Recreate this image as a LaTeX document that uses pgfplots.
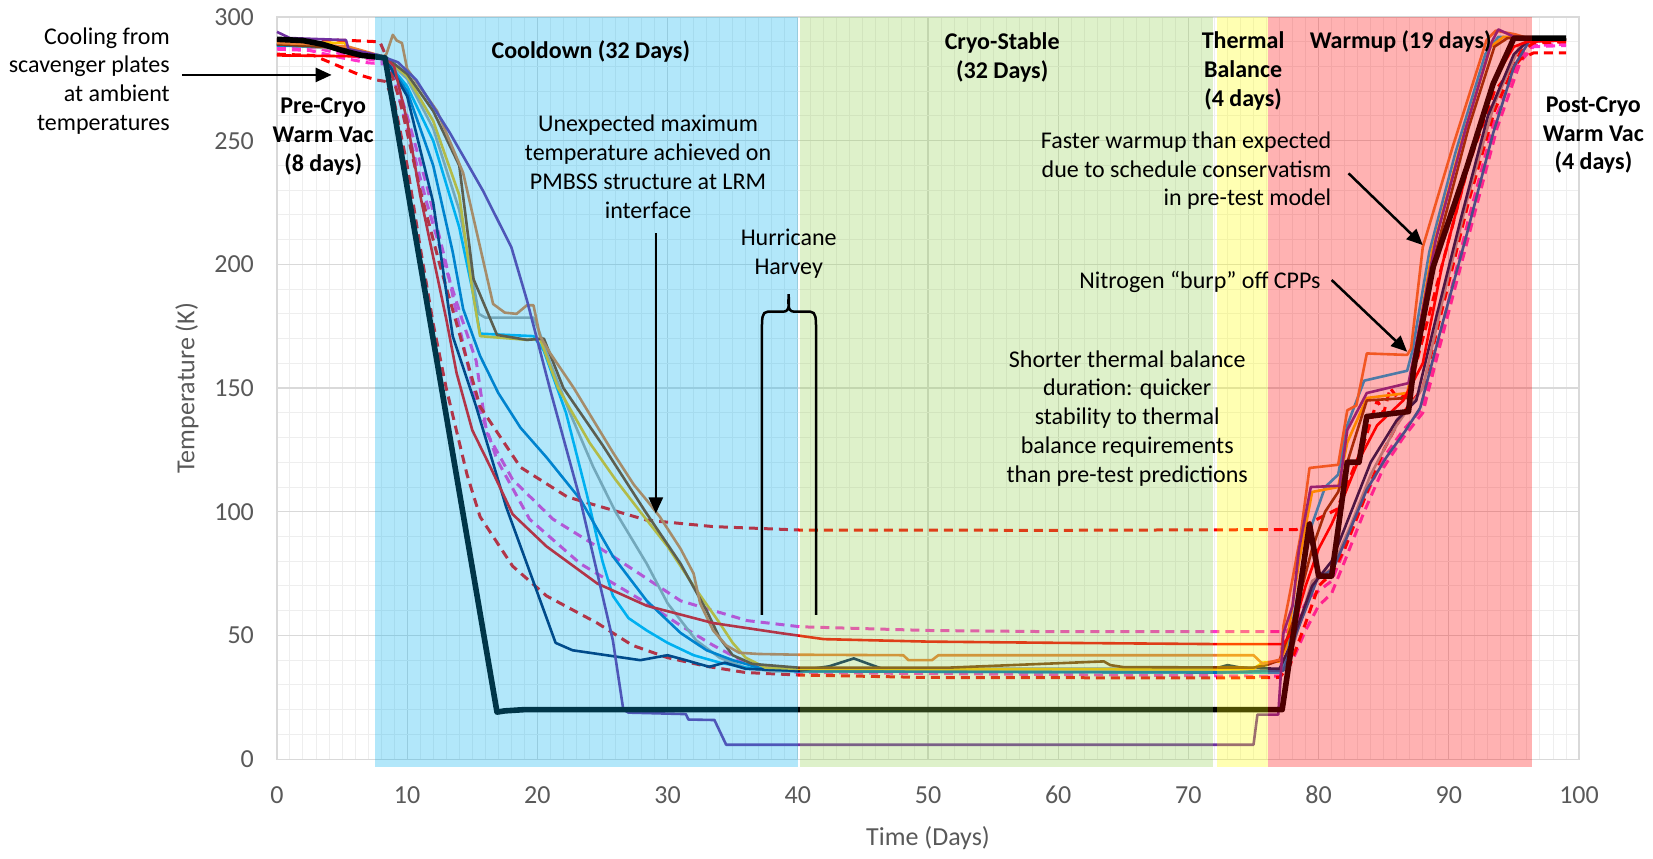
\documentclass[border=0pt]{standalone}
\usepackage{fontspec}
\setmainfont{Carlito}
\usepackage{pgfplots}
\pgfplotsset{compat=1.18}
\usetikzlibrary{arrows.meta}
\definecolor{gridmaj}{RGB}{217,217,217}
\definecolor{gridmin}{RGB}{238,238,238}
\definecolor{ticktext}{RGB}{89,89,89}
\definecolor{cPurple}{RGB}{112,48,160}
\definecolor{cOrange}{RGB}{237,125,49}
\definecolor{cBrown}{RGB}{132,60,12}
\definecolor{cGold}{RGB}{255,192,0}
\definecolor{cGray}{RGB}{165,165,165}
\definecolor{cCyan}{RGB}{0,176,240}
\definecolor{cBlue}{RGB}{0,112,192}
\definecolor{cNavy}{RGB}{0,32,96}
\definecolor{cRed}{RGB}{255,0,0}
\definecolor{cMag}{RGB}{255,51,204}
\definecolor{rBlue}{RGB}{0,176,240}
\definecolor{rGreen}{RGB}{146,208,80}
\definecolor{rYellow}{RGB}{255,255,0}
\definecolor{rRed}{RGB}{255,0,0}
\newcommand\an{\fontsize{12}{14.4}\selectfont}
\begin{document}
\begin{tikzpicture}
\begin{axis}[
  scale only axis, width=651pt, height=371pt,
  xmin=0, xmax=100, ymin=0, ymax=300,
  xtick={0,10,...,100}, ytick={0,50,...,300},
  minor x tick num=9, minor y tick num=4,
  grid=both,
  major grid style={draw=gridmaj, line width=0.6pt},
  minor grid style={draw=gridmin, line width=0.5pt},
  axis line style={draw=gridmaj, line width=0.6pt},
  tick style={draw=none},
  /pgf/number format/assume math mode=true,
  tick label style={font=\fontsize{13}{15}\selectfont, text=ticktext},
  yticklabel style={xshift=-8pt},
  xticklabel style={yshift=-10pt},
  xlabel={Time (Days)}, ylabel={Temperature (K)},
  label style={font=\fontsize{13}{15}\selectfont, text=ticktext},
  xlabel style={at={(axis description cs:0.5,-0.1065)}, anchor=center},
  ylabel style={at={(axis description cs:-0.0691,0.5)}, anchor=center},
  clip=false,
  every axis plot/.append style={no markers, line join=round},
  thin/.style={line width=1.3pt},
  dsh/.style={line width=1.5pt, dash pattern=on 4.5pt off 3pt},
]
% magenta dashed 2
\addplot[cMag, dsh] coordinates {(0,287)(2.5,286.5)(5,283.5)(7,281.5)(8.3,281)(9,277)(10,260)(11.5,232)(13,200)(14,175)(15.1,149)(16.9,121)(19.4,97)(23.3,79)(28.4,63)(31,54)(33.5,46)(36,39)(40,35)(72,33.7)(77,33.5)(78,40)(79,52)(80,62)(81,67)(82,80)(83.5,100)(85,118)(86.5,130)(88,140)(89.7,175)(91.7,215)(93.7,255)(95.5,282)(96.5,288)(99,288.5)};
% magenta dashed 1
\addplot[cMag, dsh] coordinates {(0,288)(3,287.5)(5,285)(7,283)(8.3,282)(9,275)(10,255)(11.5,225)(13,198)(14.2,178)(15.3,161)(16.1,132)(18.1,113)(21.2,97)(25.8,82)(31,64)(36.1,56)(40.2,53.5)(50,52)(60,51.5)(77.5,51.5)(78.2,55)(79,63)(80,68)(81,72)(82,85)(83.5,105)(85,122)(86.5,133)(88,142)(89.5,175)(91.5,218)(93.5,258)(95.5,284)(96.5,288.5)(99,289)};
% red dashed lower
\addplot[cRed, dsh] coordinates {(0,285)(2.8,284.5)(4.6,280.5)(6.4,276.5)(7.7,274.5)(8.3,274)(9,266)(10,240)(11,207)(12,176)(13,150)(14.6,115)(15.6,98)(18.1,78)(20.7,66)(24.6,55)(27.3,46)(30,41)(33,37.5)(36,35)(40,34)(50,33)(72,32.8)(77,33)(77.8,38)(79,55)(80,70)(81,75)(82,85)(83.5,105)(85,125)(86.5,140)(88,150)(89.5,182)(91.5,225)(93.5,262)(95.5,286)(96.5,289.5)(99,290)};
% red dashed upper
\addplot[cRed, dsh] coordinates {(0,290.8)(5.3,290.6)(7.9,290)(8.4,284)(9.5,265)(11,230)(12.5,200)(13.8,176)(15.6,142.5)(18.7,118)(22.3,106)(28.4,96.6)(33.5,94)(40.2,92.6)(60,92.5)(78.3,92.8)(81.4,101)(82.5,115)(83.5,128)(84.5,145)(85,140)(85.5,150)(86.2,145)(87,150)(88,170)(89.5,200)(91.5,240)(93.5,270)(95.5,283)(96.5,285.5)(99,285.5)};
% gray
\addplot[cGray, thin] coordinates {(0,288.8)(5,287)(8.3,283.3)(10,275)(12,255)(14,222)(15,195)(15.5,180)(16,178.5)(19.7,178.5)(20.2,172)(21,160)(22.5,140)(24.3,118)(26,100)(28.4,79)(30,63)(32.2,48)(34,41)(36,37)(38,35.5)(72,35.3)(77,35.5)(78,45)(79.5,72)(81,77)(82.5,95)(84,115)(86,135)(88,150)(89.5,185)(91.5,228)(93.5,265)(95.5,289)(96.5,291)(99,291)};
% cyan
\addplot[cCyan, thin] coordinates {(0,288.5)(4,288)(6,285.5)(8.3,283)(10,272)(12,250)(14,215)(15,190)(15.6,172)(19.7,171)(20.5,165)(22.2,140)(23.8,107)(25,80)(25.8,66)(27,57)(28.4,52)(30,47)(32,42)(34,39)(36,37)(40,35.5)(72,35)(77,35)(77.5,40)(78.5,70)(79.5,95)(80.5,110)(81.5,115)(82.2,135)(83.5,153)(86.8,157)(87.2,165)(88.5,205)(90.5,245)(92.8,285)(93.8,292)(99,291)};
% blue
\addplot[cBlue, thin] coordinates {(0,288.6)(4,288)(6.5,284.5)(8.3,283)(10,270)(12,240)(13.5,205)(14.3,182)(15.6,163)(17,148)(18.7,134)(20.7,122)(23.3,105)(25.8,82)(28.4,64)(31,51)(33,44)(35,40)(37,37)(40,35.5)(72,35)(77.3,35.8)(78.3,51)(79.9,72.8)(81.1,76.8)(82.2,90)(83.7,109)(85.2,122)(86.7,133)(87.8,142)(89.3,172)(91.4,212.6)(93.4,253)(95,280)(96.2,290.5)(99,291)};
% navy
\addplot[cNavy, thin] coordinates {(0,289)(4,288.5)(6.5,285)(8.3,283.5)(10,268)(12,225)(13.5,171)(15.3,142.5)(17.6,102)(19.4,76)(21.4,47)(22.7,44)(24.4,42.7)(27.9,40)(30,42)(31.4,40)(33.2,37.3)(34.4,39)(36,36.5)(40,35.7)(42.4,37.5)(44.3,40.7)(45.7,38)(46.5,36.5)(72,36.5)(73,38)(74,37)(77,36.5)(78,48)(79.5,70)(81,80)(82.5,100)(84,120)(86,137)(87.5,145)(89,178)(91,220)(93,260)(95,285)(96,290)(99,291)};
% gold
\addplot[cGold, thin] coordinates {(0,290)(5.2,289.5)(5.5,286)(8.3,283.5)(10,276)(12,258)(14,228)(15,190)(15.6,171)(19.2,169.5)(20.2,170)(21.6,150)(24,128)(26,113)(27.9,100)(30,86)(32,70)(34,55)(35,47)(36,41)(37.5,37)(40,36.5)(72,36.3)(75,36.5)(75.7,39)(77,39.5)(77.5,45)(78.5,80)(79.5,108)(81.5,110)(82.2,128)(83.7,146)(86.8,148)(87.3,160)(88.7,205)(91,250)(93.2,288)(94.2,292)(99,291)};
% brown
\addplot[cBrown, thin] coordinates {(0,289)(5,287.5)(8.3,284)(10,277)(12,262)(14,240)(15.1,194)(16.9,171.5)(19.2,169.5)(20.5,170)(22,150)(25,127)(28.3,100)(31,79)(33,60)(34,49)(35,42)(36.5,38.5)(40,37)(51.7,37)(63.5,39.5)(64,38)(65,37.2)(75,37)(76,38)(77,40)(78,55)(79.5,85)(80.5,100)(81.5,108)(82.5,125)(83.7,145)(86.8,146)(87.5,165)(89,205)(91.5,255)(93.5,288)(94.5,291.5)(99,291)};
% orange (tan)
\addplot[cOrange, thin] coordinates {(0,289.5)(3,289)(5.5,288)(8.2,284)(8.4,285)(8.9,292.8)(9.2,290.5)(9.6,289.5)(10,279)(12.3,262)(14.3,237)(16.6,184)(17.5,180.5)(18.4,180)(19.2,183.5)(19.7,183.5)(20.2,171)(21,164)(22.8,150)(24.3,137)(25.8,124)(27.4,111)(28.5,104)(29.4,98)(31,85)(32,75)(32.5,63)(33.5,52)(34.5,46)(35.5,43)(37,42.5)(40,42.2)(48.1,42)(48.5,40)(50.3,40)(50.8,42)(75,42)(75.7,38.5)(77.1,40.3)(77.3,53.8)(77.8,67.2)(78.6,90)(79.3,117.7)(81.5,119)(82.2,141)(82.9,143)(83.7,164)(86.8,163.4)(87.1,166)(88,207)(90.3,247.6)(92.9,290.7)(93.6,294.5)(95.1,293)(96.4,291)(99,291)};
% red solid
\addplot[cRed, thin] coordinates {(0,284.5)(8.3,284)(9,280)(10,258)(11,228)(12,203)(13,178)(13.8,156)(15,133)(16.4,118)(18.1,99)(20.7,86)(24.6,71)(28.4,62)(33.5,55)(38.6,51)(42,48.5)(50,47.5)(60,47)(72,46.5)(77.3,46.5)(78,51.7)(79,70)(80,85)(81,95)(82,107)(83,120)(84.5,135)(86.5,145)(88,160)(89.5,200)(91.5,240)(93.5,275)(95,288)(96,290)(99,290.5)};
% purple
\addplot[cPurple, thin] coordinates {(0,294)(1,291.5)(5.3,290.7)(5.5,287)(7.8,284.6)(9.3,281.7)(10.7,274.6)(13.3,253)(15.8,230)(18,207)(19.2,185.5)(21,149)(23.3,104.7)(25.8,48)(26.6,20)(27,18.8)(31.4,18.2)(31.6,16)(33.6,15.8)(34.5,5.8)(75,5.8)(75.3,18)(76.9,18)(77.3,51)(78,62)(78.5,85)(79.4,110)(81.6,110.5)(82.2,133)(83.7,148)(86.9,152)(87.4,165)(89,210)(91.3,255)(93.3,290)(93.8,295)(95,292)(99,291)};
% black thick
\addplot[black, line width=2.8pt] coordinates {(0,291)(2,290.5)(3.5,289)(5,286.5)(6.5,284.5)(8.3,283.5)(16.9,19)(17.5,19.5)(19,20)(77.2,20)(79.3,95)(80,74)(81,74)(82.2,120)(83.1,120)(83.7,138.5)(86.9,140.5)(87.3,158)(88.8,199)(91.4,239.5)(93.4,273)(95,291.5)(99,291.5)};
% phase overlays
\fill[rBlue, fill opacity=0.3] (axis cs:7.5,-3) rectangle (axis cs:40,300);
\fill[rGreen, fill opacity=0.3] (axis cs:40.15,-3) rectangle (axis cs:71.9,300);
\fill[rYellow, fill opacity=0.3] (axis cs:72.2,-3) rectangle (axis cs:76.1,300);
\fill[rRed, fill opacity=0.3] (axis cs:76.1,-3) rectangle (axis cs:96.35,300);
% annotations
\node[align=right, anchor=east, inner sep=0pt, font=\an] at (axis cs:-8.2,274.2) {Cooling from\\scavenger plates\\at ambient\\temperatures};
\draw[line width=1.25pt, -{Triangle[length=8pt,width=7pt]}] (axis cs:-7.3,276.6) -- (axis cs:4.2,276.6);
\node[align=center, inner sep=0pt, font=\an\bfseries] at (axis cs:3.55,251.6) {Pre-Cryo\\Warm Vac\\(8 days)};
\node[align=center, inner sep=0pt, font=\an\bfseries] at (axis cs:24.1,286) {Cooldown (32 Days)};
\node[align=center, inner sep=0pt, font=\an\bfseries] at (axis cs:55.7,283.7) {Cryo-Stable\\(32 Days)};
\node[align=center, inner sep=0pt, font=\an\bfseries] at (axis cs:74.2,278.3) {Thermal\\Balance\\(4 days)};
\node[align=center, inner sep=0pt, font=\an\bfseries] at (axis cs:86.3,290) {Warmup (19 days)};
\node[align=center, inner sep=0pt, font=\an\bfseries] at (axis cs:101.1,252.3) {Post-Cryo\\Warm Vac\\(4 days)};
\node[align=center, inner sep=0pt, font=\an] at (axis cs:28.5,239.5) {Unexpected maximum\\temperature achieved on\\PMBSS structure at LRM\\interface};
\draw[line width=1.25pt, -{Triangle[length=8pt,width=7pt]}] (axis cs:29.1,212.6) -- (axis cs:29.1,99.3);
\node[align=center, inner sep=0pt, font=\an] at (axis cs:39.3,204.3) {Hurricane\\Harvey};
\draw[line width=1.25pt] (axis cs:37.25,58.3) -- (axis cs:37.25,175) to[out=90,in=180] (axis cs:37.7,180.9) -- (axis cs:38.9,180.9) to[out=0,in=-90] (axis cs:39.3,188) to[out=-90,in=180] (axis cs:39.7,180.9) -- (axis cs:40.95,180.9) to[out=0,in=90] (axis cs:41.4,175) -- (axis cs:41.4,58.3);
\node[align=right, anchor=east, inner sep=0pt, font=\an] at (axis cs:81.0,237.9) {Faster warmup than expected\\due to schedule conservatism\\in pre-test model};
\draw[line width=1.25pt, -{Triangle[length=8pt,width=7pt]}] (axis cs:82.3,236.8) -- (axis cs:88.0,207.8);
\node[anchor=west, inner sep=0pt, font=\an] at (axis cs:61.6,193) {Nitrogen “burp” off CPPs};
\draw[line width=1.25pt, -{Triangle[length=8pt,width=7pt]}] (axis cs:81.0,193.7) -- (axis cs:86.8,164.7);
\node[align=center, inner sep=0pt, font=\an] at (axis cs:65.3,137.8) {Shorter thermal balance\\duration: quicker\\stability to thermal\\balance requirements\\than pre-test predictions};
\coordinate (bbsw) at (axis cs:-21.27,-40.03);
\coordinate (bbne) at (axis cs:105.68,306.9);
\end{axis}
\pgfresetboundingbox
\path (bbsw) rectangle (bbne);
\end{tikzpicture}
\end{document}
